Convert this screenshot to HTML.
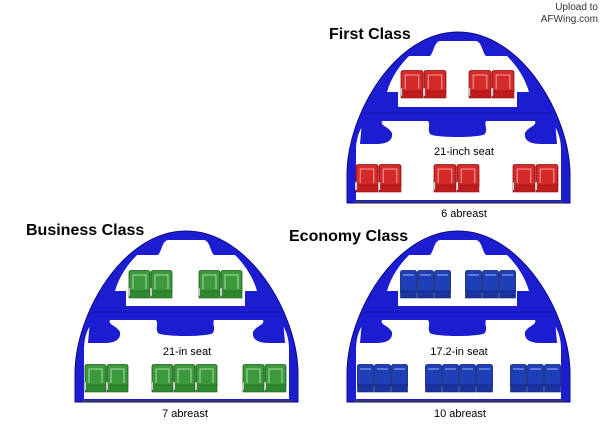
<!DOCTYPE html>
<html><head><meta charset="utf-8"><style>
html,body{margin:0;padding:0;background:#fff;}
svg{display:block;}
text{font-family:"Liberation Sans",Arial,sans-serif;}
</style></head><body>
<svg width="600" height="425" viewBox="0 0 600 425" xmlns="http://www.w3.org/2000/svg">
<defs>
  <g id="fus">
    <path d="M347,203 L347,175 C347,115 395,32 458,32 C521,32 570,115 570,175 L570,203 Z" fill="#1c1cd0" stroke="#0a0a80" stroke-width="1"/>
    <!-- upper cabin -->
    <path d="M398,107 L398,92 L387,92 C391,78 399,66 409,56 L430,56 C434,52 434,42 440,41 L476,41 C482,42 482,52 486,56 L507,56 C517,66 525,78 529,92 L517,92 L517,107 Z" fill="#fff"/>
    <line x1="364" y1="113" x2="553" y2="113" stroke="#0a0a80" stroke-width="0.6"/>
    <!-- lower cabin -->
    <path d="M356,200 L356,150 C356,138 360,128 366,121 L551,121 C557,128 561,138 561,150 L561,200 Z" fill="#fff"/>
    <path d="M362,121 L382,121 C380,126 388,126 392,133 C393,140 388,144 376,144 L360,144 Z" fill="#1c1cd0"/>
    <path d="M555,121 L535,121 C537,126 529,126 525,133 C524,140 529,144 541,144 L557,144 Z" fill="#1c1cd0"/>
    <path d="M428,121 L486,121 C484,126 488,128 485,134 C480,138 435,138 430,134 C427,128 431,126 428,121 Z" fill="#1c1cd0"/>
    <line x1="354" y1="202" x2="563" y2="202" stroke="#444" stroke-width="1.2"/>
  </g>
  <symbol id="sr" viewBox="0 0 23 29" preserveAspectRatio="none">
    <rect x="1" y="0.5" width="21" height="23" rx="2" fill="#d42a2a" stroke="#8a1010" stroke-width="0.8"/>
    <path d="M5,19 V5 H18 V19" fill="none" stroke="#f3a0a0" stroke-width="1"/>
    <rect x="1" y="21" width="21" height="7" fill="#c01c1c" stroke="#8a1010" stroke-width="0.6"/>
    <rect x="0" y="18" width="2" height="8" fill="#ddd" stroke="#777" stroke-width="0.4"/>
  </symbol>
  <symbol id="sg" viewBox="0 0 23 29" preserveAspectRatio="none">
    <rect x="1" y="0.5" width="21" height="23" rx="2" fill="#3c9a3c" stroke="#1c5a1c" stroke-width="0.8"/>
    <path d="M5,19 V5 H18 V19" fill="none" stroke="#a8dca8" stroke-width="1"/>
    <rect x="1" y="21" width="21" height="7" fill="#2f8a2f" stroke="#1c5a1c" stroke-width="0.6"/>
    <rect x="0" y="18" width="2" height="8" fill="#ddd" stroke="#777" stroke-width="0.4"/>
  </symbol>
  <symbol id="sb" viewBox="0 0 17 29" preserveAspectRatio="none">
    <rect x="0.5" y="0.5" width="16" height="23" rx="2" fill="#1f3fb8" stroke="#0c1f70" stroke-width="0.8"/>
    <path d="M3,5 H14" fill="none" stroke="#9fb4f0" stroke-width="1"/>
    <rect x="0.5" y="21" width="16" height="7" fill="#1a35a0" stroke="#0c1f70" stroke-width="0.6"/>
  </symbol>
</defs>

<text x="598" y="10" font-size="10" fill="#333" text-anchor="end">Upload to</text>
<text x="598" y="22" font-size="10" fill="#333" text-anchor="end">AFWing.com</text>

<!-- First Class -->
<text x="329" y="39" font-size="16" font-weight="bold" fill="#000">First Class</text>
<use href="#fus"/>
<use href="#sr" x="400" y="70" width="24" height="29"/><use href="#sr" x="423" y="70" width="24" height="29"/>
<use href="#sr" x="468" y="70" width="24" height="29"/><use href="#sr" x="491" y="70" width="24" height="29"/>
<use href="#sr" x="355" y="164" width="24" height="29"/><use href="#sr" x="378" y="164" width="24" height="29"/>
<use href="#sr" x="433" y="164" width="24" height="29"/><use href="#sr" x="456" y="164" width="24" height="29"/>
<use href="#sr" x="512" y="164" width="24" height="29"/><use href="#sr" x="535" y="164" width="24" height="29"/>
<text x="464" y="155" font-size="11" text-anchor="middle" fill="#000">21-inch seat</text>
<text x="464" y="217" font-size="11" text-anchor="middle" fill="#000">6 abreast</text>

<!-- Business Class -->
<text x="26" y="235" font-size="16" font-weight="bold" fill="#000">Business Class</text>
<use href="#fus" transform="translate(-272,199)"/>
<use href="#sg" x="128" y="270" width="23" height="29"/><use href="#sg" x="150" y="270" width="23" height="29"/>
<use href="#sg" x="198" y="270" width="23" height="29"/><use href="#sg" x="220" y="270" width="23" height="29"/>
<use href="#sg" x="84" y="364" width="23" height="29"/><use href="#sg" x="106" y="364" width="23" height="29"/>
<use href="#sg" x="151" y="364" width="23" height="29"/><use href="#sg" x="173" y="364" width="23" height="29"/><use href="#sg" x="195" y="364" width="23" height="29"/>
<use href="#sg" x="242" y="364" width="23" height="29"/><use href="#sg" x="264" y="364" width="23" height="29"/>
<text x="187" y="355" font-size="11" text-anchor="middle" fill="#000">21-in seat</text>
<text x="185" y="417" font-size="11" text-anchor="middle" fill="#000">7 abreast</text>

<!-- Economy Class -->
<text x="289" y="241" font-size="16" font-weight="bold" fill="#000">Economy Class</text>
<use href="#fus" transform="translate(0,199)"/>
<use href="#sb" x="400" y="270" width="17" height="29"/><use href="#sb" x="417" y="270" width="17" height="29"/><use href="#sb" x="434" y="270" width="17" height="29"/>
<use href="#sb" x="465" y="270" width="17" height="29"/><use href="#sb" x="482" y="270" width="17" height="29"/><use href="#sb" x="499" y="270" width="17" height="29"/>
<use href="#sb" x="357" y="364" width="17" height="29"/><use href="#sb" x="374" y="364" width="17" height="29"/><use href="#sb" x="391" y="364" width="17" height="29"/>
<use href="#sb" x="425" y="364" width="17" height="29"/><use href="#sb" x="442" y="364" width="17" height="29"/><use href="#sb" x="459" y="364" width="17" height="29"/><use href="#sb" x="476" y="364" width="17" height="29"/>
<use href="#sb" x="510" y="364" width="17" height="29"/><use href="#sb" x="527" y="364" width="17" height="29"/><use href="#sb" x="544" y="364" width="17" height="29"/>
<text x="459" y="355" font-size="11" text-anchor="middle" fill="#000">17.2-in seat</text>
<text x="460" y="417" font-size="11" text-anchor="middle" fill="#000">10 abreast</text>
</svg>
</body></html>
